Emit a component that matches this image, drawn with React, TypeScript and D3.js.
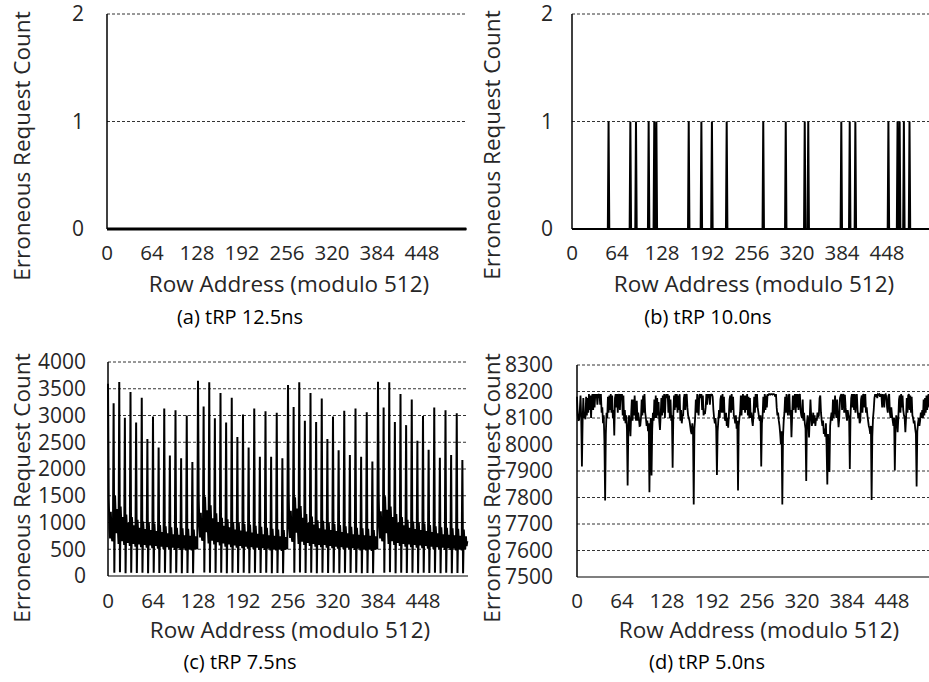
import React, { useEffect, useRef } from 'react';
import * as d3 from 'd3';

const FONT = "'Open Sans', 'Noto Sans', sans-serif";

const rowCount = 512;
const xTicks = [0, 64, 128, 192, 256, 320, 384, 448];

// (a) tRP 12.5ns: no errors at all
const errorsA: number[] = new Array(rowCount).fill(0);

// (b) tRP 10.0ns: rows with a single erroneous request
const spikeRowsB = [52, 83, 91, 109, 117, 120, 166, 184, 199, 220, 272, 304, 331, 336, 383, 395, 403, 450, 463, 466, 472, 480];

// (c) tRP 7.5ns: 8 rows per line
const errorsC: number[][] = [
  [3594, 1480, 900, 700, 1200, 800, 650, 700],
  [3230, 60, 1500, 1100, 800, 1250, 900, 600],
  [3625, 70, 1300, 950, 650, 1100, 800, 580],
  [2960, 50, 1150, 850, 620, 1000, 750, 560],
  [3440, 60, 1100, 800, 600, 950, 700, 550],
  [2870, 55, 1050, 780, 590, 900, 680, 540],
  [3330, 60, 1020, 760, 580, 880, 660, 530],
  [2560, 50, 1000, 740, 570, 860, 640, 520],
  [2980, 60, 980, 720, 560, 840, 630, 510],
  [2400, 55, 950, 700, 550, 820, 620, 500],
  [3130, 60, 930, 690, 540, 800, 610, 500],
  [2250, 50, 910, 680, 530, 780, 600, 490],
  [3100, 60, 900, 670, 520, 770, 590, 490],
  [2200, 50, 890, 660, 510, 760, 580, 480],
  [3000, 55, 880, 650, 500, 750, 570, 480],
  [2130, 50, 870, 640, 500, 740, 560, 500],
  [3650, 1450, 920, 720, 1180, 780, 660, 690],
  [3170, 65, 1480, 1080, 820, 1230, 880, 610],
  [3620, 60, 1320, 930, 660, 1080, 790, 590],
  [2950, 55, 1170, 860, 630, 1010, 740, 570],
  [3420, 60, 1090, 810, 610, 940, 710, 550],
  [2870, 50, 1060, 770, 590, 910, 670, 540],
  [3330, 60, 1010, 750, 570, 870, 650, 530],
  [2600, 55, 990, 730, 560, 850, 640, 520],
  [3020, 60, 970, 710, 550, 830, 620, 510],
  [2400, 50, 960, 700, 540, 810, 610, 500],
  [3130, 60, 940, 680, 530, 790, 600, 490],
  [2230, 55, 920, 670, 520, 780, 590, 490],
  [3080, 60, 900, 660, 510, 760, 580, 480],
  [2230, 50, 880, 650, 500, 750, 570, 480],
  [3050, 55, 870, 640, 500, 740, 560, 470],
  [2200, 50, 860, 630, 490, 730, 550, 500],
  [3570, 1500, 880, 710, 1220, 790, 640, 710],
  [3160, 60, 1470, 1090, 810, 1260, 890, 600],
  [3620, 65, 1310, 940, 640, 1090, 810, 580],
  [2900, 55, 1160, 840, 620, 990, 760, 560],
  [3420, 60, 1110, 790, 600, 960, 700, 550],
  [2880, 50, 1040, 780, 580, 890, 690, 540],
  [3320, 60, 1030, 750, 580, 870, 660, 530],
  [2560, 55, 990, 740, 560, 860, 650, 520],
  [2980, 60, 970, 720, 550, 840, 630, 510],
  [2350, 50, 950, 700, 540, 820, 620, 500],
  [3090, 60, 930, 690, 530, 800, 610, 500],
  [2260, 55, 920, 680, 520, 780, 600, 490],
  [3130, 60, 900, 670, 510, 770, 590, 480],
  [2230, 50, 890, 660, 500, 760, 580, 480],
  [3060, 55, 880, 650, 500, 750, 570, 470],
  [2140, 50, 860, 640, 490, 740, 560, 500],
  [3630, 1470, 910, 700, 1210, 800, 650, 720],
  [3150, 60, 1490, 1100, 800, 1240, 900, 600],
  [3620, 70, 1300, 950, 650, 1100, 800, 580],
  [2880, 50, 1160, 850, 620, 1000, 750, 560],
  [3400, 60, 1100, 800, 600, 950, 700, 550],
  [2820, 55, 1050, 780, 590, 900, 680, 540],
  [3300, 60, 1020, 760, 580, 880, 660, 530],
  [2530, 50, 1000, 740, 570, 860, 640, 520],
  [2990, 60, 980, 720, 560, 840, 630, 510],
  [2360, 55, 950, 700, 550, 820, 620, 500],
  [3150, 60, 930, 690, 540, 800, 610, 500],
  [2210, 50, 910, 680, 530, 780, 600, 490],
  [3100, 60, 900, 670, 520, 770, 590, 490],
  [2260, 50, 890, 660, 510, 760, 580, 480],
  [3040, 55, 880, 650, 500, 750, 570, 480],
  [2170, 50, 870, 640, 500, 740, 560, 650],
];

// (d) tRP 5.0ns: 8 rows per line
const errorsD: number[][] = [
  [8180, 8110, 8090, 8094, 8130, 8185, 8100, 7917],
  [8090, 8175, 8100, 8120, 8095, 8180, 8110, 8175],
  [8120, 8190, 8130, 8185, 8100, 8175, 8190, 8130],
  [8190, 8140, 8190, 8180, 8190, 8150, 8190, 8185],
  [8190, 8150, 8190, 8120, 8140, 8080, 8110, 8010],
  [7789, 8040, 8120, 8100, 8180, 8120, 8185, 8130],
  [8190, 8120, 8185, 8100, 8130, 8034, 8175, 8190],
  [8140, 8190, 8120, 8185, 8190, 8130, 8190, 8175],
  [8190, 8110, 8185, 8090, 8130, 8080, 8110, 8060],
  [7845, 8060, 8110, 8080, 8031, 8110, 8170, 8090],
  [8170, 8110, 8185, 8120, 8090, 8165, 8090, 8120],
  [8100, 8070, 8071, 8100, 8170, 8110, 8185, 8120],
  [8190, 8120, 8100, 8070, 8090, 8050, 8080, 7820],
  [8050, 8100, 7883, 8060, 8120, 8090, 8170, 8100],
  [8185, 8100, 8175, 8110, 8160, 8090, 8055, 8110],
  [8175, 8110, 8185, 8120, 8190, 8100, 8175, 8190],
  [8175, 8190, 8120, 8185, 8100, 8170, 8090, 8110],
  [7912, 8110, 8185, 8130, 8190, 8140, 8190, 8120],
  [8185, 8130, 8190, 8090, 8130, 8080, 8109, 8110],
  [8175, 8190, 8130, 8185, 8190, 8140, 8110, 8100],
  [8090, 8070, 8050, 8040, 8080, 8050, 7774, 8060],
  [8100, 8170, 8120, 8190, 8130, 8110, 8185, 8190],
  [8175, 8190, 8130, 8185, 8110, 8120, 8115, 8140],
  [8190, 8150, 8190, 8180, 8190, 8150, 8190, 8185],
  [8190, 8180, 8130, 8100, 8080, 8100, 8060, 7885],
  [8050, 8090, 8130, 8100, 8170, 8185, 8120, 8190],
  [8120, 8180, 8100, 8090, 8120, 8070, 8100, 8063],
  [8110, 8170, 8185, 8120, 8190, 8130, 8180, 8110],
  [8100, 8080, 8110, 8060, 8090, 7826, 8070, 8100],
  [8120, 8185, 8110, 8170, 8190, 8130, 8185, 8120],
  [8185, 8130, 8190, 8110, 8180, 8100, 8175, 8100],
  [8120, 8090, 8070, 8110, 8180, 8120, 8190, 8140],
  [8190, 8140, 8120, 8100, 8090, 8110, 7917, 8080],
  [8110, 8180, 8120, 8190, 8130, 8185, 8140, 8190],
  [8185, 8190, 8190, 8188, 8190, 8190, 8188, 8190],
  [8190, 8188, 8180, 8190, 8140, 8110, 8120, 8090],
  [8070, 8040, 8000, 8050, 7774, 8030, 8090, 8120],
  [8180, 8120, 8190, 8140, 8110, 8185, 8190, 8110],
  [8130, 8027, 8110, 8185, 8130, 8175, 8190, 8120],
  [8190, 8140, 8190, 8130, 8185, 8190, 8130, 8110],
  [8100, 8170, 8090, 8120, 8080, 8060, 7862, 8080],
  [8110, 8090, 8027, 8100, 8170, 8110, 8070, 8090],
  [8120, 8080, 8110, 8070, 8100, 8090, 8120, 8103],
  [8110, 8175, 8185, 8120, 8090, 8070, 8090, 8040],
  [8060, 8030, 8080, 7990, 7849, 8040, 7940, 7896],
  [8070, 8100, 8120, 8090, 8170, 8100, 8130, 8185],
  [8120, 8100, 8170, 8110, 8065, 8100, 8175, 8185],
  [8190, 8130, 8185, 8190, 8120, 8188, 8140, 8110],
  [8090, 8130, 8110, 8100, 7908, 8110, 8175, 8190],
  [8140, 8190, 8130, 8190, 8120, 8180, 8190, 8130],
  [8100, 8120, 8080, 8090, 8170, 8185, 8120, 8190],
  [8185, 8140, 8190, 8120, 8140, 8110, 8090, 8070],
  [8060, 8040, 8070, 7791, 8030, 8100, 8130, 8175],
  [8190, 8180, 8190, 8175, 8190, 8188, 8190, 8180],
  [8190, 8185, 8140, 8190, 8180, 8140, 8188, 8190],
  [8180, 8140, 8120, 8185, 8190, 8120, 8100, 8140],
  [8110, 8090, 8070, 8100, 7902, 8060, 8110, 8090],
  [8046, 8100, 8170, 8185, 8120, 8190, 8140, 8185],
  [8130, 8110, 8100, 8046, 8100, 8175, 8120, 8185],
  [8190, 8130, 8185, 8120, 8180, 8110, 8100, 8080],
  [8090, 8060, 8040, 7842, 8050, 8080, 8100, 8070],
  [8090, 8120, 8100, 8130, 8100, 8170, 8110, 8175],
  [8120, 8185, 8130, 8180, 8190, 8140, 8185, 8190],
  [8175, 8190, 8140, 8188, 8190, 8180, 8190, 8185],
];

interface PanelSpec {
  values: number[];
  yDomain: [number, number];
  yTicks: number[];
  left: number;
  top: number;
  bottom: number;
  strokeWidth: number;
  labelRight: number;
  titleX: number;
  titleY: number;
  tickBase: number;
  xTitleBase: number;
  caption: string;
  captionX: number;
  captionBase: number;
}

const plotWidth = 360;

const panels: PanelSpec[] = [
  {
    values: errorsA, yDomain: [0, 2], yTicks: [0, 1, 2],
    left: 107, top: 14, bottom: 229, strokeWidth: 3,
    labelRight: 84, titleX: 30, titleY: 146, tickBase: 260, xTitleBase: 292,
    caption: "(a) tRP 12.5ns", captionX: 240, captionBase: 324,
  },
  {
    values: d3.range(rowCount).map(r => (spikeRowsB.includes(r) ? 1 : 0)),
    yDomain: [0, 2], yTicks: [0, 1, 2],
    left: 572, top: 14, bottom: 229, strokeWidth: 2,
    labelRight: 553, titleX: 500, titleY: 145, tickBase: 260, xTitleBase: 292,
    caption: "(b) tRP 10.0ns", captionX: 708, captionBase: 324,
  },
  {
    values: errorsC.flat(), yDomain: [0, 4000], yTicks: d3.range(0, 4001, 500),
    left: 108, top: 362, bottom: 576, strokeWidth: 2,
    labelRight: 86, titleX: 30, titleY: 488, tickBase: 608, xTitleBase: 638,
    caption: "(c) tRP 7.5ns", captionX: 240, captionBase: 669,
  },
  {
    values: errorsD.flat(), yDomain: [7500, 8300], yTicks: d3.range(7500, 8301, 100),
    left: 577, top: 365, bottom: 577, strokeWidth: 1.8,
    labelRight: 553, titleX: 500, titleY: 488, tickBase: 608, xTitleBase: 638,
    caption: "(d) tRP 5.0ns", captionX: 707, captionBase: 669,
  },
];

export default function App() {
  const svgRef = useRef<SVGSVGElement>(null);

  useEffect(() => {
    if (!svgRef.current) return;
    const svg = d3.select(svgRef.current);
    svg.selectAll("*").remove();

    panels.forEach(p => {
      const x = d3.scaleLinear().domain([0, rowCount]).range([p.left, p.left + plotWidth]);
      const y = d3.scaleLinear().domain(p.yDomain).range([p.bottom, p.top]);
      const g = svg.append("g");

      // dashed gridlines
      g.selectAll(".grid")
        .data(p.yTicks.filter(t => t !== p.yDomain[0]))
        .enter()
        .append("line")
        .attr("x1", p.left)
        .attr("x2", p.left + plotWidth)
        .attr("y1", d => y(d))
        .attr("y2", d => y(d))
        .attr("stroke", "#333")
        .attr("stroke-width", 1)
        .attr("stroke-dasharray", "3 2");

      // axis lines
      g.append("line")
        .attr("x1", p.left).attr("x2", p.left + plotWidth)
        .attr("y1", p.bottom).attr("y2", p.bottom)
        .attr("stroke", "#000").attr("stroke-width", 1.2);
      g.append("line")
        .attr("x1", p.left).attr("x2", p.left)
        .attr("y1", p.top).attr("y2", p.bottom)
        .attr("stroke", "#000").attr("stroke-width", 1.5);

      // series
      const line = d3.line<number>()
        .x((_, i) => x(i))
        .y(d => y(d));
      g.append("path")
        .datum(p.values)
        .attr("d", line)
        .attr("fill", "none")
        .attr("stroke", "#000")
        .attr("stroke-width", p.strokeWidth)
        .attr("stroke-linejoin", "miter")
        .attr("stroke-miterlimit", 2);

      // y tick labels
      g.selectAll(".ylab")
        .data(p.yTicks)
        .enter()
        .append("text")
        .attr("x", p.labelRight)
        .attr("y", d => y(d))
        .attr("dy", "0.35em")
        .attr("text-anchor", "end")
        .attr("font-family", FONT)
        .attr("font-size", 21)
        .attr("fill", "#262626")
        .text(d => String(d));

      // x tick labels
      g.selectAll(".xlab")
        .data(xTicks)
        .enter()
        .append("text")
        .attr("x", d => x(d))
        .attr("y", p.tickBase)
        .attr("text-anchor", "middle")
        .attr("font-family", FONT)
        .attr("font-size", 20.5)
        .attr("fill", "#262626")
        .text(d => String(d));

      g.append("text")
        .attr("x", p.left + plotWidth / 2 + 2)
        .attr("y", p.xTitleBase)
        .attr("text-anchor", "middle")
        .attr("font-family", FONT)
        .attr("font-size", 22.5)
        .attr("fill", "#262626")
        .text("Row Address (modulo 512)");

      g.append("text")
        .attr("transform", `translate(${p.titleX},${p.titleY}) rotate(-90)`)
        .attr("text-anchor", "middle")
        .attr("font-family", FONT)
        .attr("font-size", 22.5)
        .attr("fill", "#262626")
        .text("Erroneous Request Count");

      g.append("text")
        .attr("x", p.captionX)
        .attr("y", p.captionBase)
        .attr("text-anchor", "middle")
        .attr("font-family", FONT)
        .attr("font-size", 20)
        .attr("fill", "#000")
        .text(p.caption);
    });

    return () => {
      d3.select(svgRef.current).selectAll("*").remove();
    };
  }, []);

  return (
    <svg
      ref={svgRef}
      width={929}
      height={682}
      style={{ position: "absolute", left: 0, top: 0, background: "#fff" }}
    />
  );
}
